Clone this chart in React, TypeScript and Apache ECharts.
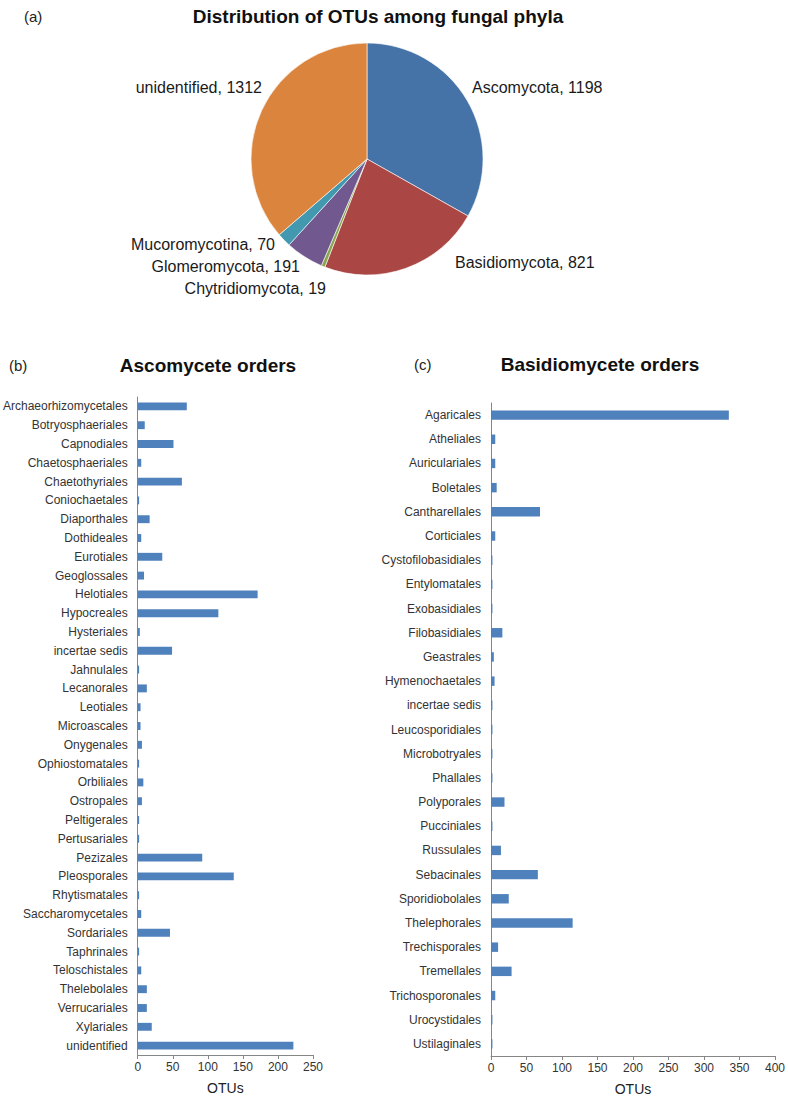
import React, { useEffect, useRef } from "react";
import * as echarts from "echarts";

const phylaNames = ["Ascomycota", "Basidiomycota", "Chytridiomycota", "Glomeromycota", "Mucoromycotina", "unidentified"];
const phylaValues = [1198, 821, 19, 191, 70, 1312];
const phylaColors = ["#4572A7", "#AA4643", "#89A54E", "#71588F", "#4198AF", "#DB843D"];

const ascoOrders = [
  "Archaeorhizomycetales", "Botryosphaeriales", "Capnodiales", "Chaetosphaeriales", "Chaetothyriales",
  "Coniochaetales", "Diaporthales", "Dothideales", "Eurotiales", "Geoglossales", "Helotiales",
  "Hypocreales", "Hysteriales", "incertae sedis", "Jahnulales", "Lecanorales", "Leotiales",
  "Microascales", "Onygenales", "Ophiostomatales", "Orbiliales", "Ostropales", "Peltigerales",
  "Pertusariales", "Pezizales", "Pleosporales", "Rhytismatales", "Saccharomycetales", "Sordariales",
  "Taphrinales", "Teloschistales", "Thelebolales", "Verrucariales", "Xylariales", "unidentified",
];
const ascoValues = [
  70, 10, 51, 5, 63,
  2, 17, 5, 35, 9, 171,
  115, 3, 49, 2, 13, 4,
  4, 6, 2, 8, 6, 2,
  2, 92, 137, 2, 5, 46,
  2, 5, 13, 13, 20, 222,
];

const basidioOrders = [
  "Agaricales", "Atheliales", "Auriculariales", "Boletales", "Cantharellales", "Corticiales",
  "Cystofilobasidiales", "Entylomatales", "Exobasidiales", "Filobasidiales", "Geastrales",
  "Hymenochaetales", "incertae sedis", "Leucosporidiales", "Microbotryales", "Phallales",
  "Polyporales", "Pucciniales", "Russulales", "Sebacinales", "Sporidiobolales", "Thelephorales",
  "Trechisporales", "Tremellales", "Trichosporonales", "Urocystidales", "Ustilaginales",
];
const basidioValues = [
  335, 6, 6, 8, 69, 6,
  2, 2, 2, 16, 4,
  5, 2, 2, 2, 2,
  19, 2, 14, 66, 25, 115,
  10, 29, 6, 2, 2,
];

const ascoTicks = { min: 0, max: 250, interval: 50 };
const basidioTicks = { min: 0, max: 400, interval: 50 };

// label anchor positions for pie labels (styling)
const pieLabelPos = [
  { x: 472, y: 87, align: "left" },
  { x: 455, y: 262, align: "left" },
  { x: 326, y: 288, align: "right" },
  { x: 300, y: 266, align: "right" },
  { x: 275, y: 244, align: "right" },
  { x: 262, y: 87, align: "right" },
];

const FONT = "'Liberation Sans', Arial, sans-serif";
const BAR = "#4F81BD";
const AXIS = "#868686";
const LABEL = "#333333";

export default function App() {
  const ref = useRef<HTMLDivElement>(null);
  useEffect(() => {
    if (!ref.current) return;
    const chart = echarts.init(ref.current, null, { renderer: "svg" });

    const makeX = (gridIndex: number, t: { min: number; max: number; interval: number }) => ({
      type: "value",
      gridIndex,
      min: t.min,
      max: t.max,
      interval: t.interval,
      name: "OTUs",
      nameLocation: "middle",
      nameGap: 26,
      nameTextStyle: { fontFamily: FONT, fontSize: 14, color: "#222" },
      axisLine: { show: true, lineStyle: { color: AXIS, width: 1 } },
      axisTick: { show: true, length: 4, lineStyle: { color: AXIS } },
      axisLabel: { fontFamily: FONT, fontSize: 12, color: LABEL, margin: 6 },
      splitLine: { show: false },
    });
    const makeY = (gridIndex: number, cats: string[]) => ({
      type: "category",
      gridIndex,
      data: cats,
      inverse: true,
      axisLine: { show: true, lineStyle: { color: AXIS, width: 1 } },
      axisTick: { show: false },
      axisLabel: { fontFamily: FONT, fontSize: 12, color: LABEL, margin: 10, interval: 0 },
      splitLine: { show: false },
    });

    chart.setOption({
      animation: false,
      backgroundColor: "#ffffff",
      title: [
        {
          text: "Distribution of OTUs among fungal phyla",
          left: 373, top: 2, textAlign: "center",
          textStyle: { fontFamily: FONT, fontSize: 19, fontWeight: "bold", color: "#111" },
        },
        { text: "(a)", left: 19, top: 4, textStyle: { fontFamily: FONT, fontSize: 15, fontWeight: "normal", color: "#222" } },
        {
          text: "Ascomycete orders", left: 203, top: 351, textAlign: "center",
          textStyle: { fontFamily: FONT, fontSize: 19, fontWeight: "bold", color: "#111" },
        },
        { text: "(b)", left: 4, top: 353, textStyle: { fontFamily: FONT, fontSize: 15, fontWeight: "normal", color: "#222" } },
        {
          text: "Basidiomycete orders", left: 595, top: 350, textAlign: "center",
          textStyle: { fontFamily: FONT, fontSize: 19, fontWeight: "bold", color: "#111" },
        },
        { text: "(c)", left: 409, top: 352, textStyle: { fontFamily: FONT, fontSize: 15, fontWeight: "normal", color: "#222" } },
      ],
      grid: [
        { left: 136, right: 788 - 313, top: 397, bottom: 1101 - 1055 },
        { left: 491, right: 788 - 775, top: 403, bottom: 1101 - 1056 },
      ],
      xAxis: [makeX(0, ascoTicks), makeX(1, basidioTicks)],
      yAxis: [makeY(0, ascoOrders), makeY(1, basidioOrders)],
      series: [
        {
          type: "pie",
          center: [367, 159],
          radius: 116,
          startAngle: 90,
          clockwise: true,
          avoidLabelOverlap: false,
          data: phylaNames.map((n, i) => ({ name: n, value: phylaValues[i], itemStyle: { color: phylaColors[i] } })),
          itemStyle: { borderColor: "#ffffff", borderWidth: 0.6 },
          label: {
            show: true,
            position: "outside",
            formatter: "{b}, {c}",
            fontFamily: FONT,
            fontSize: 16,
            color: "#1a1a1a",
          },
          labelLine: { show: false },
          labelLayout: (p: any) => {
            const pos = pieLabelPos[p.dataIndex];
            return { x: pos.x, y: pos.y, align: pos.align, verticalAlign: "middle", moveOverlap: null };
          },
          emphasis: { disabled: true },
        },
        {
          type: "bar",
          xAxisIndex: 0,
          yAxisIndex: 0,
          data: ascoValues,
          barWidth: "42%",
          itemStyle: { color: BAR },
          emphasis: { disabled: true },
        },
        {
          type: "bar",
          xAxisIndex: 1,
          yAxisIndex: 1,
          data: basidioValues,
          barWidth: "39%",
          itemStyle: { color: BAR },
          emphasis: { disabled: true },
        },
      ],
    });
    return () => chart.dispose();
  }, []);
  return (
    <div
      ref={ref}
      style={{ position: "fixed", left: 0, top: 0, width: 788, height: 1101, background: "#fff" }}
    />
  );
}
